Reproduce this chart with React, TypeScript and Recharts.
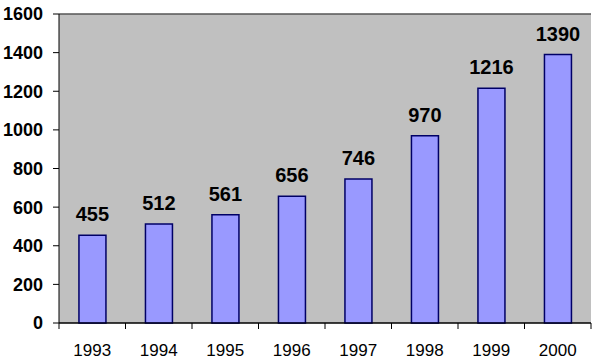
import { BarChart, Bar, XAxis, YAxis, CartesianGrid, LabelList, ReferenceLine } from "recharts";

const years = ["1993", "1994", "1995", "1996", "1997", "1998", "1999", "2000"];
const counts = [455, 512, 561, 656, 746, 970, 1216, 1390];
const yTicks = [0, 200, 400, 600, 800, 1000, 1200, 1400, 1600];

const data = years.map((year, i) => ({ year, count: counts[i] }));

const W = 599;
const H = 364;
const LEFT = 59;
const RIGHT = 8;
const BAND = (W - LEFT - RIGHT) / years.length;
const FONT = "'Liberation Sans', Arial, sans-serif";

const XTick = ({ x, y, payload, index }: any) => (
  <g>
    {index === 0 && <line x1={x - BAND / 2} y1={y} x2={x - BAND / 2} y2={y + 6} stroke="#000" />}
    <line x1={x + BAND / 2} y1={y} x2={x + BAND / 2} y2={y + 6} stroke="#000" />
    <text x={x} y={y + 33} textAnchor="middle" fontSize={17} fontFamily={FONT} fill="#000">
      {payload.value}
    </text>
  </g>
);

export default function App() {
  return (
    <div style={{ position: "absolute", left: 0, top: 0, background: "#fff" }}>
      <BarChart width={W} height={H} data={data} margin={{ top: 14, right: RIGHT, left: 0, bottom: 0 }} barCategoryGap="30%">
        <CartesianGrid vertical={false} stroke="#000" fill="#c0c0c0" fillOpacity={1} />
        <XAxis
          dataKey="year"
          height={41}
          axisLine={{ stroke: "#000" }}
          tickLine={false}
          tickSize={0}
          tickMargin={0}
          tick={<XTick />}
          interval={0}
        />
        <YAxis
          yAxisId="l"
          width={LEFT}
          domain={[0, 1600]}
          ticks={yTicks}
          interval={0}
          axisLine={{ stroke: "#000" }}
          tickLine={{ stroke: "#000" }}
          tickSize={6}
          tickMargin={10}
          tick={{ fill: "#000", fontSize: 18, fontWeight: "bold", fontFamily: FONT }}
        />
        <YAxis yAxisId="r" orientation="right" width={0} domain={[0, 1600]} tick={false} tickLine={false} axisLine={{ stroke: "#808080" }} />
        <ReferenceLine yAxisId="l" y={1600} stroke="#808080" />
        <Bar yAxisId="l" dataKey="count" fill="#9999ff" stroke="#000066" strokeWidth={1.5} isAnimationActive={false}>
          <LabelList dataKey="count" position="top" offset={14} fill="#000" fontSize={20} fontWeight="bold" fontFamily={FONT} />
        </Bar>
      </BarChart>
    </div>
  );
}
